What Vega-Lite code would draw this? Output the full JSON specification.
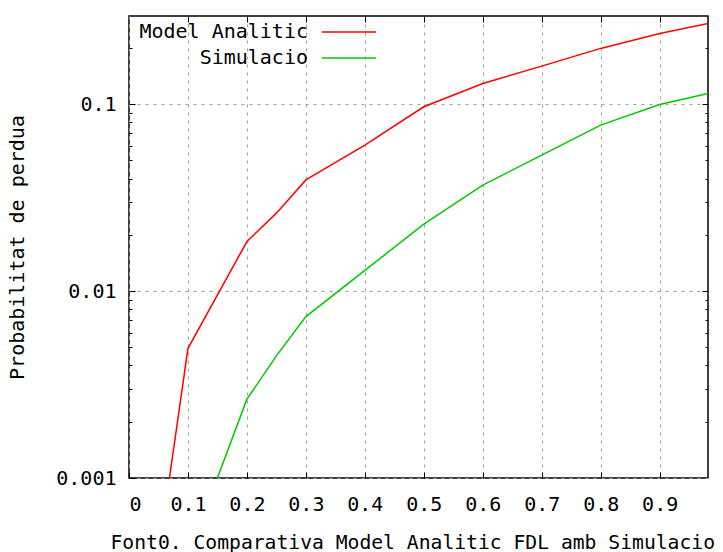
{
  "$schema": "https://vega.github.io/schema/vega-lite/v6.json",
  "autosize": {"type": "none"},
  "width": 579,
  "height": 462,
  "padding": {"left": 129, "top": 16, "right": 15, "bottom": 74},
  "background": "white",
  "config": {
    "view": {"stroke": "#000000", "strokeWidth": 1.5},
    "font": "DejaVu Sans Mono",
    "axis": {
      "labelFont": "DejaVu Sans Mono",
      "titleFont": "DejaVu Sans Mono",
      "labelFontSize": 20,
      "titleFontSize": 20,
      "titleFontWeight": "normal",
      "labelColor": "#000000",
      "titleColor": "#000000",
      "tickColor": "#000000",
      "tickWidth": 1,
      "domain": false,
      "gridColor": "#a0a0a0",
      "gridDash": [3, 5],
      "gridWidth": 1,
      "gridOpacity": 1
    },
    "legend": {
      "labelFont": "DejaVu Sans Mono",
      "labelFontSize": 20,
      "labelColor": "#000000",
      "labelLimit": 400
    }
  },
  "data": {
    "values": [
      {"x": 0.05, "p": 0.000388, "serie": "Model Analitic"},
      {"x": 0.1, "p": 0.00494, "serie": "Model Analitic"},
      {"x": 0.2, "p": 0.0184, "serie": "Model Analitic"},
      {"x": 0.25, "p": 0.0261, "serie": "Model Analitic"},
      {"x": 0.3, "p": 0.0393, "serie": "Model Analitic"},
      {"x": 0.4, "p": 0.0604, "serie": "Model Analitic"},
      {"x": 0.5, "p": 0.0968, "serie": "Model Analitic"},
      {"x": 0.6, "p": 0.129, "serie": "Model Analitic"},
      {"x": 0.7, "p": 0.1596, "serie": "Model Analitic"},
      {"x": 0.8, "p": 0.1986, "serie": "Model Analitic"},
      {"x": 0.9, "p": 0.2387, "serie": "Model Analitic"},
      {"x": 1.0, "p": 0.277, "serie": "Model Analitic"},
      {"x": 0.1, "p": 0.00038, "serie": "Simulacio"},
      {"x": 0.2, "p": 0.00264, "serie": "Simulacio"},
      {"x": 0.25, "p": 0.0045, "serie": "Simulacio"},
      {"x": 0.3, "p": 0.0073, "serie": "Simulacio"},
      {"x": 0.4, "p": 0.0129, "serie": "Simulacio"},
      {"x": 0.5, "p": 0.0228, "serie": "Simulacio"},
      {"x": 0.6, "p": 0.0369, "serie": "Simulacio"},
      {"x": 0.7, "p": 0.0533, "serie": "Simulacio"},
      {"x": 0.8, "p": 0.0772, "serie": "Simulacio"},
      {"x": 0.9, "p": 0.0996, "serie": "Simulacio"},
      {"x": 1.0, "p": 0.1175, "serie": "Simulacio"}
    ]
  },
  "resolve": {"axis": {"x": "independent", "y": "independent"}},
  "layer": [
    {
      "mark": {"type": "line", "clip": true, "strokeWidth": 1.5},
      "encoding": {
        "x": {
          "field": "x", "type": "quantitative",
          "scale": {"domain": [0, 0.982], "nice": false, "zero": false},
          "axis": {
            "orient": "bottom",
            "values": [0, 0.1, 0.2, 0.3, 0.4, 0.5, 0.6, 0.7, 0.8, 0.9],
            "labelExpr": "datum.value == 0 ? '0' : format(datum.value, '.1f')",
            "tickSize": -6,
            "labelPadding": 22,
            "grid": true,
            "title": "Font0. Comparativa Model Analitic FDL amb Simulacio",
            "titleFontSize": 19.7,
            "titleAnchor": "start",
            "titleX": -19,
            "titlePadding": 18
          }
        },
        "y": {
          "field": "p", "type": "quantitative",
          "scale": {"type": "log", "domain": [0.001, 0.296], "nice": false},
          "axis": {
            "orient": "left",
            "values": [0.001, 0.01, 0.1],
            "labelExpr": "datum.value == 0.001 ? '0.001' : datum.value == 0.01 ? '0.01' : '0.1'",
            "tickSize": -6,
            "labelPadding": 19,
            "grid": true,
            "title": "Probabilitat de perdua",
            "titlePadding": 28
          }
        },
        "color": {
          "field": "serie", "type": "nominal",
          "scale": {"domain": ["Model Analitic", "Simulacio"], "range": ["#ff0000", "#00c800"]},
          "legend": {
            "title": null,
            "orient": "none",
            "legendX": 210,
            "legendY": 6,
            "padding": 0,
            "symbolType": "M-3,0H3",
            "symbolSize": 324,
            "symbolStrokeWidth": 1.5,
            "labelAlign": "right",
            "labelOffset": -51,
            "rowPadding": 6
          }
        }
      }
    },
    {
      "mark": {"type": "line", "opacity": 0},
      "encoding": {
        "x": {
          "field": "x", "type": "quantitative",
          "scale": {"domain": [0, 0.982], "nice": false, "zero": false},
          "axis": {"orient": "top", "values": [0.1, 0.2, 0.3, 0.4, 0.5, 0.6, 0.7, 0.8, 0.9], "labels": false, "grid": false, "tickSize": -6, "title": null}
        },
        "y": {
          "field": "p", "type": "quantitative",
          "scale": {"type": "log", "domain": [0.001, 0.296], "nice": false},
          "axis": {"orient": "right", "values": [0.01, 0.1], "labels": false, "grid": false, "tickSize": -6, "title": null}
        }
      }
    },
    {
      "mark": {"type": "line", "opacity": 0},
      "encoding": {
        "x": {
          "field": "x", "type": "quantitative",
          "scale": {"domain": [0, 0.982], "nice": false, "zero": false},
          "axis": null
        },
        "y": {
          "field": "p", "type": "quantitative",
          "scale": {"type": "log", "domain": [0.001, 0.296], "nice": false},
          "axis": {"orient": "left", "values": [0.002, 0.003, 0.004, 0.005, 0.006, 0.007, 0.008, 0.009, 0.02, 0.03, 0.04, 0.05, 0.06, 0.07, 0.08, 0.09, 0.2], "labels": false, "grid": false, "tickSize": -3, "title": null}
        }
      }
    },
    {
      "mark": {"type": "line", "opacity": 0},
      "encoding": {
        "x": {
          "field": "x", "type": "quantitative",
          "scale": {"domain": [0, 0.982], "nice": false, "zero": false},
          "axis": null
        },
        "y": {
          "field": "p", "type": "quantitative",
          "scale": {"type": "log", "domain": [0.001, 0.296], "nice": false},
          "axis": {"orient": "right", "values": [0.002, 0.003, 0.004, 0.005, 0.006, 0.007, 0.008, 0.009, 0.02, 0.03, 0.04, 0.05, 0.06, 0.07, 0.08, 0.09, 0.2], "labels": false, "grid": false, "tickSize": -3, "title": null}
        }
      }
    }
  ]
}
